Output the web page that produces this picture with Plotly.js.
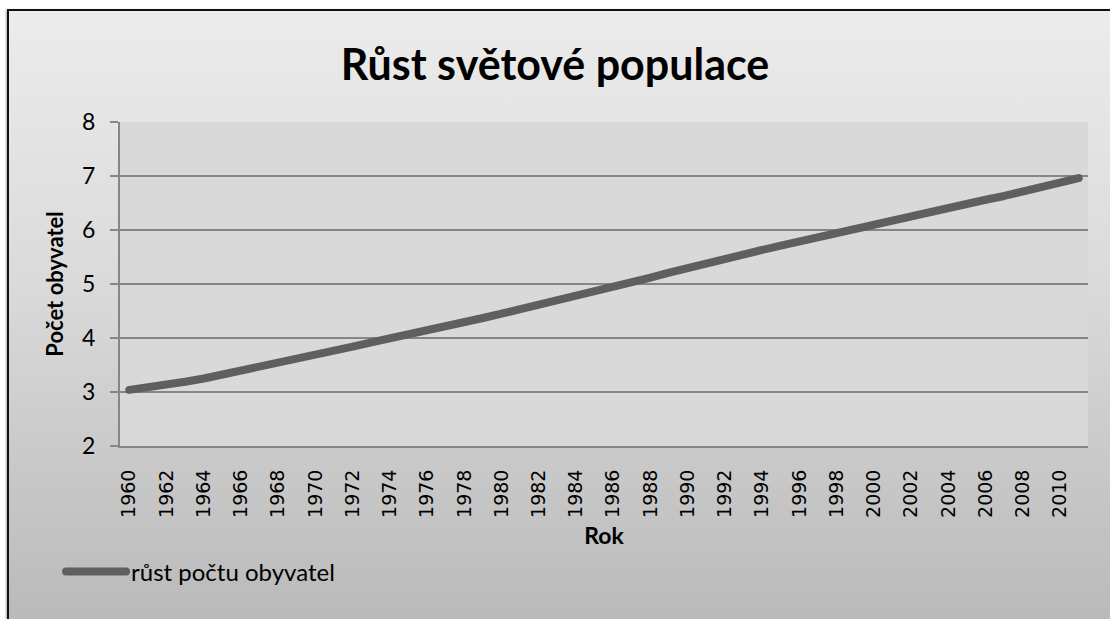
<!DOCTYPE html>
<html>
<head>
<meta charset="utf-8">
<script src="https://cdn.plot.ly/plotly-3.0.1.min.js"></script>
<style>
  html, body { margin: 0; padding: 0; background: #ffffff; overflow: hidden; width: 1110px; height: 619px; }
  #frame {
    position: absolute; left: 7px; top: 9px; right: 0; bottom: 0;
    border-left: 2px solid #111; border-top: 2px solid #111;
    background: linear-gradient(to bottom, #ececec 0%, #dadada 45%, #bababa 100%);
    box-shadow: -1px 1px 2px rgba(0,0,0,0.35);
  }
  #chart { position: absolute; left: 0; top: 0; width: 1110px; height: 619px; }
  .scatterlayer path.js-line, .legendlines path { stroke-linecap: round; stroke-linejoin: round; }
</style>
</head>
<body>
<div id="frame"></div>
<div id="chart"></div>
<script>
// World population, billions, 1960-2011
const years = ["1960","1961","1962","1963","1964","1965","1966","1967","1968","1969",
  "1970","1971","1972","1973","1974","1975","1976","1977","1978","1979",
  "1980","1981","1982","1983","1984","1985","1986","1987","1988","1989",
  "1990","1991","1992","1993","1994","1995","1996","1997","1998","1999",
  "2000","2001","2002","2003","2004","2005","2006","2007","2008","2009",
  "2010","2011"];
const population = [3.04,3.08,3.13,3.19,3.25,3.32,3.39,3.46,3.53,3.61,
  3.69,3.77,3.84,3.92,3.99,4.07,4.14,4.22,4.29,4.37,
  4.45,4.53,4.61,4.69,4.77,4.86,4.95,5.04,5.12,5.21,
  5.30,5.38,5.47,5.55,5.63,5.71,5.79,5.87,5.95,6.03,
  6.11,6.18,6.26,6.33,6.41,6.48,6.56,6.63,6.71,6.79,
  6.87,6.96];
const yearTicks = years.filter((y, i) => i % 2 === 0);
const yTicks = [2,3,4,5,6,7,8];

const seriesName = "růst počtu obyvatel";
const chartTitle = "Růst světové populace";
const xTitle = "Rok";
const yTitle = "Počet obyvatel";

const trace = {
  x: years,
  y: population,
  type: "scatter",
  mode: "lines",
  name: seriesName,
  line: { color: "#5f5f5f", width: 8 },
  showlegend: true
};

const layout = {
  width: 1110,
  height: 619,
  paper_bgcolor: "rgba(0,0,0,0)",
  plot_bgcolor: "#d9d9d9",
  margin: { l: 120, r: 22, t: 122, b: 173 },
  font: { family: "Lato, 'Open Sans', sans-serif", color: "#000" },
  title: {
    text: "<b>" + chartTitle + "</b>",
    font: { family: "Lato, sans-serif", size: 43, color: "#000" },
    x: 0.5, xanchor: "center",
    y: 0.895, yanchor: "middle", yref: "container"
  },
  xaxis: {
    type: "category",
    range: [-0.5, years.length - 0.5],
    tickmode: "array",
    tickvals: yearTicks,
    ticktext: yearTicks,
    tickangle: -90,
    tickfont: { family: "DejaVu Sans, sans-serif", size: 19, color: "#000" },
    ticks: "",
    ticklabelstandoff: 14,
    showgrid: false,
    showline: true,
    linecolor: "#868686",
    linewidth: 2,
    zeroline: false,
    title: {
      text: "<b>" + xTitle + "</b>",
      font: { family: "Lato, sans-serif", size: 23, color: "#000" },
      standoff: 16
    }
  },
  yaxis: {
    range: [2, 8],
    tickmode: "array",
    tickvals: yTicks,
    ticks: "outside",
    ticklen: 8,
    tickwidth: 2,
    tickcolor: "#868686",
    ticklabelstandoff: 10,
    tickfont: { family: "Lato, sans-serif", size: 23, color: "#000" },
    showgrid: true,
    gridcolor: "#868686",
    gridwidth: 2,
    showline: true,
    linecolor: "#868686",
    linewidth: 2,
    zeroline: false,
    title: {
      text: "<b>" + yTitle + "</b>",
      font: { family: "Lato, sans-serif", size: 22, color: "#000" },
      standoff: 12
    }
  },
  showlegend: true,
  legend: {
    xref: "container", yref: "container",
    x: 0.055, y: 0.076, xanchor: "left", yanchor: "middle",
    orientation: "h",
    bgcolor: "rgba(0,0,0,0)",
    itemwidth: 60,
    font: { family: "Lato, sans-serif", size: 24, color: "#000" }
  },
  hovermode: false
};

Plotly.newPlot("chart", [trace], layout, { displayModeBar: false, staticPlot: true });
</script>
</body>
</html>
